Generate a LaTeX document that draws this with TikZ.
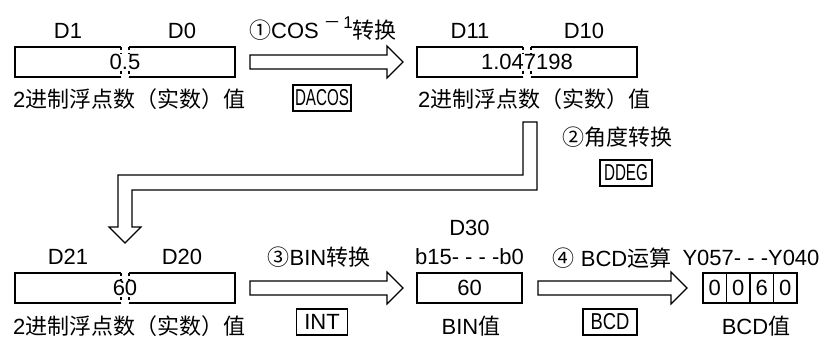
\documentclass[tikz,border=0pt]{standalone}
\usepackage{fontspec}
\setmainfont{Liberation Sans}
\newfontfamily\zhfont{Noto Sans CJK SC}
\newfontfamily\narrowfont[FakeStretch=0.66]{Liberation Sans}
\newfontfamily\semifont[FakeStretch=0.8]{Liberation Sans}
\usetikzlibrary{positioning,calc}
\newcommand{\zh}[1]{{\zhfont #1}}
\newcommand{\fatarrow}[2]{%
  \draw[fat] let \p1=(#1), \p2=(#2) in
    (\x1,\y1+7pt) -- (\x2-16pt,\y1+7pt) -- (\x2-16pt,\y1+16pt) -- (\x2,\y1)
    -- (\x2-16pt,\y1-16pt) -- (\x2-16pt,\y1-7pt) -- (\x1,\y1-7pt) -- cycle;}
\tikzset{
  reg/.style={minimum width=106pt, minimum height=30pt, inner sep=0pt, outer sep=0pt},
  edge/.style={line width=1.1pt},
  val/.style={fill=white, inner sep=0.6pt, font=\fontsize{22}{22}\selectfont},
  lbl/.style={inner sep=0pt, font=\fontsize{22}{22}\selectfont},
  instr/.style={draw, line width=1.1pt, minimum height=26pt, inner sep=2pt, font={\narrowfont\fontsize{23}{23}\selectfont}},
  cell/.style={draw, line width=1.1pt, minimum width=23.5pt, minimum height=30pt, inner sep=0pt, outer sep=0pt, font=\fontsize{22}{22}\selectfont},
  fat/.style={line width=1.1pt, fill=white, line join=miter},
}
\begin{document}
\begin{tikzpicture}[x=1pt, y=-1pt]
  \useasboundingbox (0,0) rectangle (825,342);
  % float registers
  \node[reg] (d1) at (68,62) {};
  \node[reg, right=8pt of d1] (d0) {};
  \node[reg] (d11) at (470,62) {};
  \node[reg, right=8pt of d11] (d10) {};
  \node[reg] (d21) at (68,288) {};
  \node[reg, right=8pt of d21] (d20) {};
  \foreach \l/\r/\v in {d1/d0/0.5, d11/d10/1.047198, d21/d20/60} {
    \draw[edge] (\l.north east) -- (\l.north west) -- (\l.south west) -- (\l.south east);
    \draw[edge] (\r.north west) -- (\r.north east) -- (\r.south east) -- (\r.south west);
    \draw[edge, dash pattern=on 3pt off 3pt] (\l.north east) -- (\l.south east) (\r.north west) -- (\r.south west);
    \node[val] (v\l) at ($(\l.east)!0.5!(\r.west)$) {\v};
  }
  \foreach \n/\t in {d1/D1, d0/D0, d11/D11, d10/D10, d21/D21, d20/D20}
    \node[lbl, above=8pt of \n] (l\n) {\t};
  \node[lbl, anchor=base west] (n1) at (13,108) {2\zh{进制浮点数（实数）值}};
  \node[lbl, anchor=base west] (n2) at (418,108) {2\zh{进制浮点数（实数）值}};
  \node[lbl, anchor=base west] (n3) at (13,334) {2\zh{进制浮点数（实数）值}};

  % step 1
  \coordinate[right=15pt of d0] (a1s);
  \coordinate[left=14pt of d11] (a1e);
  \fatarrow{a1s}{a1e}
  \node[lbl, anchor=base] (t1) at (323,39) {\zh{①}COS\raisebox{10pt}{\fontsize{17}{17}\selectfont\ \zh{－}\,1}\zh{转换}};
  \node[instr, minimum width=58pt] (dacos) at (322,98) {DACOS};

  % step 2
  \coordinate (lt) at (530,122);
  \coordinate (lb) at ($(d21.north east)!0.5!(d20.north west)+(0,-30)$);
  \draw[fat] let \p1=(lt), \p2=(lb) in
    (\x1-7pt,\y1) -- (\x1+7pt,\y1) -- (\x1+7pt,\y1-68pt) -- (\x2+7pt,\y1-68pt)
    -- (\x2+7pt,\y2+16pt) -- (\x2+16pt,\y2+16pt) -- (\x2,\y2) -- (\x2-16pt,\y2+16pt)
    -- (\x2-7pt,\y2+16pt) -- (\x2-7pt,\y1-53pt) -- (\x1-7pt,\y1-53pt) -- cycle;
  \node[lbl, anchor=base] (t2) at (617,146) {\zh{②角度转换}};
  \node[instr, minimum width=52pt] (ddeg) at (626,173) {DDEG};

  % step 3
  \node[cell, minimum width=105pt] (d30) at (469.5,288) {60};
  \node[lbl, above=8pt of d30] (bits) {b15- - - -b0};
  \node[lbl, above=13pt of bits] (d30n) {D30};
  \coordinate[right=15pt of d20] (a3s);
  \coordinate[left=14pt of d30] (a3e);
  \fatarrow{a3s}{a3e}
  \node[lbl, anchor=base] (t3) at (319,265) {\zh{③}BIN\zh{转换}};
  \node[instr, font=\fontsize{22}{22}\selectfont, minimum width=51pt] (int) at (322,322) {INT};
  \node[lbl, anchor=base] (n4) at (471,334) {BIN\zh{值}};

  % step 4
  \foreach \d [count=\i] in {0,0,6,0}
    \node[cell] (c\i) at (691.25+23.5*\i,288) {\d};
  \node[lbl, anchor=base] (ylbl) at (751,265) {Y057- - -Y040};
  \coordinate[right=16pt of d30] (a4s);
  \coordinate[left=16pt of c1] (a4e);
  \fatarrow{a4s}{a4e}
  \node[lbl, anchor=base] (t4) at (612,266) {\zh{④} BCD\zh{运算}};
  \node[instr, font={\semifont\fontsize{23}{23}\selectfont}, minimum width=54pt] (bcd) at (610,322) {BCD};
  \node[lbl, anchor=base] (n5) at (756,334) {BCD\zh{值}};
\end{tikzpicture}
\end{document}
